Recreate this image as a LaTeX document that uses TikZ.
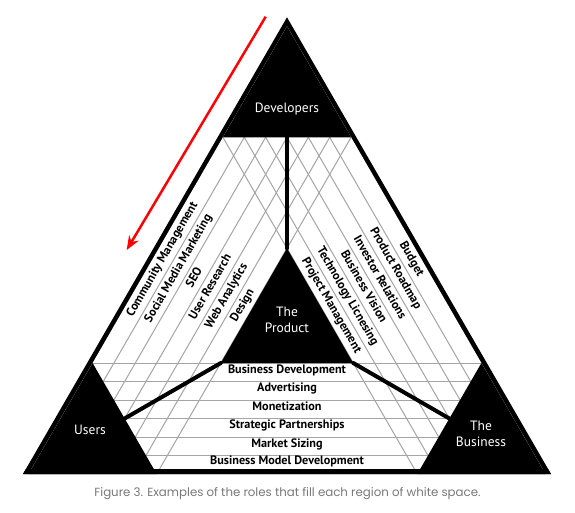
\documentclass[tikz,border=0pt]{standalone}
\usepackage{fontspec}
\newfontfamily\rolefont{PT Sans}
\newfontfamily\capfont{Poppins}
\usetikzlibrary{arrows.meta}
\definecolor{hatchgray}{RGB}{165,165,165}
\definecolor{capgray}{RGB}{120,120,120}
\tikzset{
  hatch/.style={draw=hatchgray, line width=1pt},
  link/.style={line width=4pt, line cap=round},
  role/.style={font=\rolefont\bfseries\fontsize{12.2}{14}\selectfont, inner sep=0pt, text height=1.5ex, text depth=.3ex},
  owner/.style={font=\rolefont\fontsize{13.5}{16}\selectfont, text=white, align=center, inner sep=0pt},
  flow/.style={draw=red, line width=2.5pt, -{Stealth[length=14pt,width=11pt]}},
}
\begin{document}
\begin{tikzpicture}[x=1pt,y=-1pt]
\useasboundingbox (0,0) rectangle (575,512);
% frame and white field
\fill (287,17.3) -- (23,474) -- (551,474) -- cycle;
\fill[white] (287,26.3) -- (28.5,474) -- (545.5,474) -- cycle;
% the three bands, six strips each
\begin{scope}
  \clip (287,26.3) -- (28.5,474) -- (545.5,474) -- cycle;
  \foreach \k in {1,...,6} {
    \draw[hatch] ({28.5+21.362*\k},474) -- ({302.2+21.362*\k},0);
    \draw[hatch] ({545.5-21.362*\k},474) -- ({271.8-21.362*\k},0);
    \draw[hatch] (0,{474-18.5*\k}) -- (575,{474-18.5*\k});
  }
\end{scope}
% corners
\fill (287,26.3) -- (222.9,137.3) -- (351.1,137.3) -- cycle;
\fill (28.5,474) -- (92.6,363) -- (156.7,474) -- cycle;
\fill (545.5,474) -- (481.4,363) -- (417.3,474) -- cycle;
\fill (23,474) -- (551,474) -- (548.1,469) -- (25.9,469) -- cycle;
% product in the middle
\coordinate (devfoot) at (287,137.3);
\coordinate (prodtop) at (287,248.3);
\coordinate (prodleft) at (220.8,363);
\coordinate (prodright) at (353.2,363);
\coordinate (usersedge) at (124.65,418.5);
\coordinate (bizedge) at (449.35,418.5);
\fill (prodtop) -- (prodleft) -- (prodright) -- cycle;
\draw[link] (devfoot) -- (prodtop);
\draw[link] (prodleft) -- (usersedge);
\draw[link] (prodright) -- (bizedge);
\node[owner] (dev) at (287,109) {Developers};
\node[owner] (users) at (90,430) {Users};
\node[owner] (biz) at (481,434) {The\\Business};
\node[owner] (prod) at (287,320) {The\\Product};
% roles
\foreach \t [count=\k] in {Community Management, Social Media Marketing, SEO, User Research, Web Analytics, Design}
  \node[role, rotate=60] (l\k) at ({155+16.02*(\k-0.5)},{255+9.25*(\k-0.5)}) {\t};
\foreach \t [count=\k] in {Budget, Product Roadmap, Investor Relations, Business Vision, Technology Licnesing, Project Management}
  \node[role, rotate=-60] (r\k) at ({419-16.02*(\k-0.5)},{255+9.25*(\k-0.5)}) {\t};
\foreach \t/\y [count=\k] in {Business Development/371, Advertising/389, Monetization/407.5, Strategic Partnerships/426, Market Sizing/444.5, Business Model Development/461.5}
  \node[role] (b\k) at (287,\y) {\t};
% direction of flow
\coordinate (arrowtail) at (265.7,16.7);
\coordinate (arrowtip) at (126.7,250);
\draw[flow] (arrowtail) -- (arrowtip);
\node[font=\capfont\fontsize{11.8}{14}\selectfont, text=capgray] (caption) at (287.5,494) {Figure 3. Examples of the roles that fill each region of white space.};
\end{tikzpicture}
\end{document}
